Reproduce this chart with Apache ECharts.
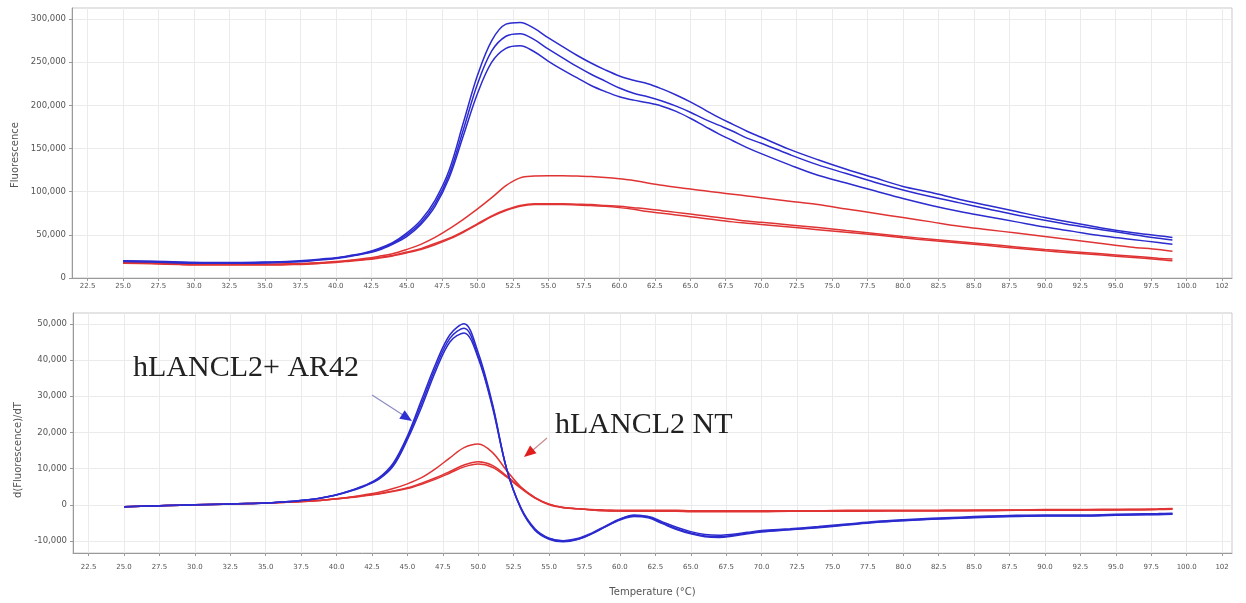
<!DOCTYPE html>
<html>
<head>
<meta charset="utf-8">
<script src="https://cdn.jsdelivr.net/npm/echarts@6/dist/echarts.min.js"></script>
<style>
  html, body { margin: 0; padding: 0; background: #ffffff; }
  #chart { width: 1246px; height: 603px; }
</style>
</head>
<body>
<div id="chart"></div>
<script>
// Melt curve: raw fluorescence (top) and its derivative (bottom) vs temperature.
const temps = [25,27,29,31,33,35,37,38,39,40,
  41,42,43,44,45,46,47,48,49,50,
  51,52,53,54,55,56,57,58,59,60,
  61,62,63,64,65,66,67,68,69,70,
  72,74,76,78,80,82,84,86,88,90,
  92,94,96,98,99];

// hLANCL2 + AR42 replicates, fluorescence
const fluorAR42_1 = [20000,19500,18500,18000,18000,18500,19500,20500,22000,23500,
  26000,29000,34000,41000,52000,67000,90000,125000,180000,235000,
  275000,294000,296000,289000,278000,268000,258000,249000,241000,234000,
  229000,225000,219000,212000,204000,195000,186000,178000,170000,163000,
  149000,137000,126000,116000,106000,99000,91000,84000,77000,70000,
  64000,58000,53000,49000,47000];
const fluorAR42_2 = [19500,19000,18000,17500,17500,18000,19000,20000,21500,23000,
  25500,28500,33000,40000,50000,64000,86000,120000,172000,225000,
  263000,280000,283000,276000,265000,255000,245000,236000,228000,220000,
  214000,210000,205000,199000,192000,184000,177000,170000,162000,156000,
  143000,131000,121000,111000,102000,94000,87000,80000,73000,67000,
  61000,56000,51000,46000,44000];
const fluorAR42_3 = [19000,18500,17500,17000,17000,17500,18500,19500,21000,22500,
  25000,28000,32000,39000,48000,62000,83000,116000,165000,214000,
  250000,266000,269000,262000,251000,241000,232000,223000,216000,210000,
  206000,203000,199000,193000,185000,176000,167000,159000,151000,144000,
  131000,119000,110000,101000,92000,84000,77000,71000,65000,59000,
  54000,49000,45000,41000,39000];

// hLANCL2 NT replicates, fluorescence
const fluorNT_1 = [18000,17500,16500,16000,16000,16000,16500,17000,18000,19000,
  20500,22500,25000,28000,33000,39000,47000,57000,68000,80000,
  93000,107000,116000,118000,118500,118500,118000,117500,116500,115000,
  113000,110000,107500,105000,103000,101000,99000,97000,95000,93000,
  89000,85000,80000,75000,70000,65000,60000,56000,52000,48000,
  44000,40000,36000,33000,31000];
const fluorNT_2 = [17500,17000,16000,15500,15500,15500,16000,16500,17500,18500,
  20000,21500,23500,26000,30000,34000,40000,46000,54000,63000,
  72000,79000,84000,86000,86000,86000,85500,85000,84000,83000,
  81500,80000,78000,76000,74000,72000,70000,68000,66000,64500,
  61500,58500,55000,51500,48000,45000,42000,39000,36000,33000,
  30500,28000,25500,23000,22000];
const fluorNT_3 = [17000,16500,15500,15000,15000,15000,15500,16000,17000,18000,
  19500,21000,23000,25500,29000,33000,38500,45000,53000,62000,
  71000,78000,83000,85000,85000,85000,84500,84000,83000,81500,
  79500,77000,75000,73000,71000,69000,67000,65000,63500,62000,
  59000,56000,53000,50000,46500,43500,40500,37500,34500,31500,
  29000,26500,24000,21500,20000];

// Derivative curves, d(Fluorescence)/dT
const derivAR42_1 = [-500,-300,-100,100,300,500,1000,1400,2000,2800,
  4000,5400,7500,11500,19000,29000,39000,47000,50000,42000,
  28000,10000,-1000,-7000,-9500,-10200,-9600,-8000,-6000,-4000,
  -2800,-3300,-5000,-6600,-7800,-8600,-8800,-8400,-7800,-7300,
  -6800,-6200,-5500,-4800,-4300,-3900,-3600,-3300,-3100,-3000,
  -3000,-2900,-2700,-2600,-2500];
const derivAR42_2 = [-500,-300,-100,100,300,500,1000,1400,2000,2800,
  3900,5300,7300,11000,18500,28000,38000,46000,48800,41000,
  27500,10000,-800,-6800,-9300,-10000,-9500,-8000,-6000,-4200,
  -3200,-3600,-5200,-6800,-8000,-8800,-9000,-8600,-8000,-7500,
  -6900,-6300,-5600,-4900,-4400,-4000,-3700,-3400,-3200,-3100,
  -3100,-3000,-2800,-2700,-2600];
const derivAR42_3 = [-500,-300,-100,100,300,500,1000,1400,1900,2700,
  3800,5200,7100,10700,18000,27000,37000,45000,47500,40500,
  27000,10000,-700,-6600,-9200,-9900,-9300,-7800,-5800,-3900,
  -3000,-3200,-4700,-6200,-7400,-8200,-8400,-8100,-7600,-7100,
  -6600,-6000,-5300,-4600,-4100,-3700,-3400,-3100,-2900,-2800,
  -2800,-2700,-2500,-2400,-2300];
const derivNT_1 = [-500,-300,-100,100,300,500,800,1000,1300,1700,
  2200,2800,3500,4500,5800,7500,10000,13000,15800,16800,
  14500,9500,5000,2000,0,-800,-1100,-1300,-1400,-1500,
  -1500,-1500,-1500,-1500,-1600,-1600,-1600,-1600,-1600,-1600,
  -1600,-1600,-1500,-1500,-1500,-1500,-1400,-1400,-1400,-1300,
  -1300,-1200,-1200,-1100,-1000];
const derivNT_2 = [-500,-300,-100,100,300,500,800,1000,1300,1700,
  2100,2600,3100,3800,4700,6000,7500,9200,11000,11900,
  10900,8000,4800,2000,200,-700,-1100,-1400,-1600,-1700,
  -1700,-1700,-1700,-1800,-1800,-1800,-1800,-1800,-1800,-1800,
  -1800,-1700,-1700,-1700,-1600,-1600,-1600,-1500,-1500,-1500,
  -1400,-1400,-1300,-1200,-1100];
const derivNT_3 = [-500,-300,-100,100,300,500,800,1000,1300,1600,
  2000,2500,3000,3700,4500,5700,7100,8800,10500,11300,
  10400,7700,4600,1900,200,-700,-1100,-1400,-1600,-1700,
  -1800,-1800,-1800,-1800,-1900,-1900,-1900,-1900,-1900,-1900,
  -1800,-1800,-1800,-1700,-1700,-1700,-1600,-1600,-1500,-1500,
  -1500,-1400,-1400,-1300,-1200];

// Axis ticks and their labels
const tempTicks = [22.5,25,27.5,30,32.5,35,37.5,40,42.5,45,47.5,50,52.5,55,57.5,60,
  62.5,65,67.5,70,72.5,75,77.5,80,82.5,85,87.5,90,92.5,95,97.5,100,102.5];
const tempTickLabels = ['22.5','25.0','27.5','30.0','32.5','35.0','37.5','40.0','42.5','45.0',
  '47.5','50.0','52.5','55.0','57.5','60.0','62.5','65.0','67.5','70.0','72.5','75.0',
  '77.5','80.0','82.5','85.0','87.5','90.0','92.5','95.0','97.5','100.0','102'];
const fluorTicks = [0,50000,100000,150000,200000,250000,300000];
const derivTicks = [-10000,0,10000,20000,30000,40000,50000];

const BLUE = '#2b2bcf';
const RED = '#e03434';
const AXIS = '#9a9a9a';
const GRIDLINE = '#ebebeb';

function pairs(values) {
  return temps.map((t, i) => [t, values[i]]);
}
function fmtNum(v) {
  return Math.round(v).toLocaleString('en-US');
}
function tempLabel(v) {
  const i = tempTicks.findIndex(t => Math.abs(t - v) < 1e-6);
  return i >= 0 ? tempTickLabels[i] : '';
}

function xAxis(gridIndex, labelMargin, withName) {
  return {
    type: 'value', gridIndex, min: 21.4, max: 103.2,
    axisLine: { show: true, onZero: false, lineStyle: { color: AXIS } },
    axisTick: { show: true, customValues: tempTicks, length: 3, lineStyle: { color: AXIS } },
    axisLabel: { customValues: tempTicks, formatter: tempLabel, fontSize: 7, color: '#555',
      fontFamily: 'DejaVu Sans', margin: labelMargin },
    splitLine: { show: true, lineStyle: { color: GRIDLINE, width: 1 } },
    name: withName ? 'Temperature (°C)' : '',
    nameLocation: 'middle', nameGap: 34,
    nameTextStyle: { fontSize: 10, color: '#555', fontFamily: 'DejaVu Sans' }
  };
}
function yAxis(gridIndex, min, max, ticks, name, namePad) {
  return {
    type: 'value', gridIndex, min, max,
    axisLine: { show: true, lineStyle: { color: AXIS } },
    axisTick: { show: true, customValues: ticks, length: 3, lineStyle: { color: AXIS } },
    axisLabel: { customValues: ticks, formatter: fmtNum, fontSize: 8.5, color: '#555',
      fontFamily: 'DejaVu Sans', margin: 6 },
    splitLine: { show: true, lineStyle: { color: GRIDLINE, width: 1 } },
    name, nameLocation: 'middle', nameGap: 50,
    nameTextStyle: { fontSize: 10, color: '#555', fontFamily: 'DejaVu Sans', padding: namePad }
  };
}
function line(name, values, color, axisIndex) {
  return {
    name, type: 'line', data: pairs(values),
    xAxisIndex: axisIndex, yAxisIndex: axisIndex,
    showSymbol: false, smooth: 0.35, silent: true,
    lineStyle: { color, width: 1.5 }, z: 3
  };
}

const chart = echarts.init(document.getElementById('chart'), null, { renderer: 'canvas' });
chart.setOption({
  animation: false,
  backgroundColor: '#ffffff',
  grid: [
    { left: 72, right: 14, top: 8, height: 270, show: true, borderColor: '#c9c9c9', borderWidth: 1, backgroundColor: 'transparent' },
    { left: 73, right: 14, top: 313, height: 240, show: true, borderColor: '#c9c9c9', borderWidth: 1, backgroundColor: 'transparent' }
  ],
  xAxis: [ xAxis(0, 5, false), xAxis(1, 11, true) ],
  yAxis: [
    yAxis(0, 0, 312700, fluorTicks, 'Fluorescence', [0, 24, 0, 0]),
    yAxis(1, -13300, 53000, derivTicks, 'd(Fluorescence)/dT', [0, 34, 0, 0])
  ],
  series: [
    line('hLANCL2 NT 1', fluorNT_1, RED, 0),
    line('hLANCL2 NT 2', fluorNT_2, RED, 0),
    line('hLANCL2 NT 3', fluorNT_3, RED, 0),
    line('hLANCL2+ AR42 1', fluorAR42_1, BLUE, 0),
    line('hLANCL2+ AR42 2', fluorAR42_2, BLUE, 0),
    line('hLANCL2+ AR42 3', fluorAR42_3, BLUE, 0),
    line('hLANCL2 NT 1', derivNT_1, RED, 1),
    line('hLANCL2 NT 2', derivNT_2, RED, 1),
    line('hLANCL2 NT 3', derivNT_3, RED, 1),
    line('hLANCL2+ AR42 1', derivAR42_1, BLUE, 1),
    line('hLANCL2+ AR42 2', derivAR42_2, BLUE, 1),
    line('hLANCL2+ AR42 3', derivAR42_3, BLUE, 1)
  ],
  graphic: [
    { type: 'text', left: 133, top: 353, z: 10,
      style: { text: 'hLANCL2+ AR42', font: '30px "Liberation Serif"', fill: '#222' } },
    { type: 'text', left: 555, top: 410, z: 10,
      style: { text: 'hLANCL2 NT', font: '30px "Liberation Serif"', fill: '#222' } },
    { type: 'line', z: 10, shape: { x1: 372, y1: 395, x2: 403, y2: 415 },
      style: { stroke: '#8c8cc4', lineWidth: 1.2 } },
    { type: 'polygon', z: 10, shape: { points: [[412, 421], [399.3, 418.7], [404.7, 410.3]] },
      style: { fill: '#2f2fd2' } },
    { type: 'line', z: 10, shape: { x1: 547, y1: 438, x2: 533, y2: 450 },
      style: { stroke: '#c88c8c', lineWidth: 1.2 } },
    { type: 'polygon', z: 10, shape: { points: [[524, 457], [530.1, 445.4], [536.5, 453.2]] },
      style: { fill: '#e01e1e' } }
  ]
});
</script>
</body>
</html>
